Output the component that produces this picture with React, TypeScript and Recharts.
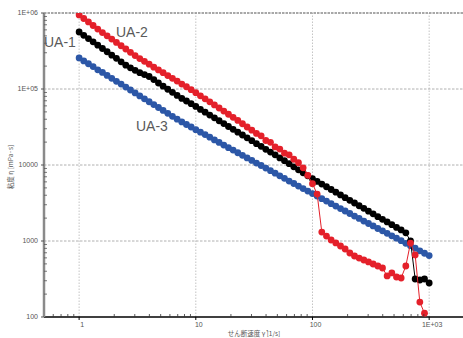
import React from "react";
import { ScatterChart, Scatter, XAxis, YAxis, ReferenceLine } from "recharts";

// shear rate [1/s]
const shearRate = [
  1, 1.096, 1.202, 1.318, 1.445, 1.585, 1.738, 1.905, 2.089, 2.291, 2.512, 2.754, 3.02, 3.311, 3.631, 3.981, 4.365, 4.786, 5.248, 5.754, 6.31, 6.918, 7.586, 8.318, 9.12,
  10, 10.96, 12.02, 13.18, 14.45, 15.85, 17.38, 19.05, 20.89, 22.91, 25.12, 27.54, 30.2, 33.11, 36.31, 39.81, 43.65, 47.86, 52.48, 57.54, 63.1, 69.18, 75.86, 83.18, 91.2,
  100, 109.6, 120.2, 131.8, 144.5, 158.5, 173.8, 190.5, 208.9, 229.1, 251.2, 275.4, 302, 331.1, 363.1, 398.1, 436.5, 478.6, 524.8, 575.4, 631, 691.8, 758.6, 831.8, 912, 1000,
];

// viscosity [mPa·s]
const ua1 = [
  562000, 509000, 461000, 417000, 377000, 341000, 309000, 279000, 253000, 228000,
  206000, 190000, 176000, 164000, 155000, 146000, 133000, 120000, 109000, 99300,
  90500, 82400, 75200, 69500, 64200, 58900, 53900, 49500, 45400, 41700,
  38200, 35100, 32100, 29500, 27000, 24800, 22800, 20900, 19100, 17600,
  16100, 14800, 13600, 12400, 11400, 10400, 9470, 8650, 7890, 7210,
  6600, 6080, 5610, 5170, 4760, 4390, 4040, 3720, 3430, 3160,
  2910, 2690, 2470, 2280, 2090, 1930, 1780, 1640, 1510, 1400,
  1280, 1000, 316, 307, 316, 280,
];

const ua2 = [
  942000, 847000, 762000, 685000, 615000, 553000, 501000, 454000, 410000, 371000,
  336000, 304000, 275000, 251000, 231000, 212000, 194000, 178000, 164000, 150000,
  138000, 127000, 116000, 107000, 98000, 89400, 81400, 74300, 67800, 61800,
  56200, 51200, 46500, 42400, 38600, 34900, 31600, 28700, 26000, 24200,
  21000, 19900, 17300, 16200, 14300, 13600, 11900, 10700, 9180, 7310,
  5680, 4150, 1310, 1160, 1030, 942, 860, 785, 695, 635,
  597, 562, 530, 498, 469, 441, 347, 380, 336, 326,
  469, 940, 655, 157, 112,
];

const ua3 = [
  256000, 234000, 215000, 197000, 179000, 165000, 151000, 138000, 126000, 116000,
  106000, 97000, 88900, 81100, 74300, 68000, 62400, 57100, 52300, 47900,
  43700, 40100, 36900, 34100, 31600, 29200, 27000, 25100, 23200, 21400,
  19800, 18300, 16900, 15700, 14500, 13400, 12400, 11500, 10600, 9850,
  9100, 8410, 7800, 7210, 6670, 6150, 5710, 5280, 4890, 4540,
  4210, 3900, 3610, 3350, 3100, 2880, 2670, 2480, 2300, 2130,
  1980, 1830, 1700, 1580, 1460, 1360, 1260, 1170, 1090, 1010,
  933, 867, 804, 743, 690, 643,
];

const xMajorTicks = [1, 10, 100, 1000];
const xTickLabels = ["1", "10", "100", "1E+03"];
const xMinorMultipliers = [2, 3, 4, 5, 6, 7, 8, 9];
const yMajorTicks = [100, 1000, 10000, 100000, 1000000];
const yTickLabels = ["100", "1000", "10000", "1E+05", "1E+06"];

const xTicks: number[] = [0.6, 0.7, 0.8, 0.9];
xMajorTicks.forEach((m, i) => {
  xTicks.push(m);
  if (i < xMajorTicks.length - 1) xMinorMultipliers.forEach((k) => xTicks.push(m * k));
});
const yTicks: number[] = [];
yMajorTicks.forEach((m, i) => {
  yTicks.push(m);
  if (i < yMajorTicks.length - 1) xMinorMultipliers.forEach((k) => yTicks.push(m * k));
});

const toPoints = (ys: number[]) => ys.map((y, i) => ({ x: shearRate[i], y }));

const RED = "#e4202a";
const BLACK = "#000000";
const BLUE = "#2c57a7";
const FONT = "'Liberation Sans', Arial, sans-serif";

const XTick = (props: any) => {
  const { x, y, payload } = props;
  const idx = xMajorTicks.indexOf(payload.value);
  if (idx >= 0) {
    return (
      <g>
        <line x1={x} x2={x} y1={y} y2={y + 3} stroke="#000" strokeWidth={1} />
        <text x={x + 3} y={y + 10} textAnchor="middle" fontSize={7} fill="#555" fontFamily={FONT}>
          {xTickLabels[idx]}
        </text>
      </g>
    );
  }
  return <line x1={x} x2={x} y1={y} y2={y - 3} stroke="#333" strokeWidth={0.8} />;
};

const YTick = (props: any) => {
  const { x, y, payload } = props;
  const idx = yMajorTicks.indexOf(payload.value);
  if (idx >= 0) {
    return (
      <g>
        <line x1={x - 3} x2={x} y1={y} y2={y} stroke="#555" strokeWidth={1} />
        <text x={x - 6} y={y} dy="0.35em" textAnchor="end" fontSize={7} fill="#555" fontFamily={FONT}>
          {yTickLabels[idx]}
        </text>
      </g>
    );
  }
  return <line x1={x} x2={x + 3} y1={y} y2={y} stroke="#555" strokeWidth={0.8} />;
};

const dot = (color: string) => (p: any) => <circle cx={p.cx} cy={p.cy} r={3.4} fill={color} />;

export default function App() {
  return (
    <div style={{ position: "relative", width: 463, height: 338, background: "#fff" }}>
      <style>{`body{margin:0}`}</style>
      <ScatterChart width={463} height={338} margin={{ top: 13, right: 0, bottom: 0, left: 0 }}>
        <XAxis
          type="number"
          dataKey="x"
          scale="log"
          domain={[0.5, 1950]}
          allowDataOverflow
          ticks={xTicks}
          interval={0}
          height={21}
          tickSize={0}
          tickMargin={0}
          tickLine={false}
          tick={<XTick />}
          axisLine={{ stroke: "#000", strokeWidth: 1.5 }}
        />
        <YAxis
          type="number"
          dataKey="y"
          scale="log"
          domain={[100, 1000000]}
          allowDataOverflow
          ticks={yTicks}
          interval={0}
          width={44}
          tickSize={0}
          tickMargin={0}
          tickLine={false}
          tick={<YTick />}
          axisLine={{ stroke: "#8a8a8a", strokeWidth: 2.5 }}
        />
        {xMajorTicks.map((v) => (
          <ReferenceLine key={"vx" + v} x={v} stroke="#c4c4c4" strokeDasharray="1.5 1.5" strokeWidth={1} />
        ))}
        {yMajorTicks.slice(1, 4).map((v) => (
          <ReferenceLine key={"hy" + v} y={v} stroke="#b0b0b0" strokeDasharray="2.5 1.5" strokeWidth={1} />
        ))}
        <ReferenceLine y={1000000} stroke="#8c8c8c" strokeDasharray="2.5 1" strokeWidth={1.6} />
        <Scatter
          name="UA-3"
          data={toPoints(ua3)}
          fill={BLUE}
          line={{ stroke: BLUE, strokeWidth: 1 }}
          shape={dot(BLUE)}
          isAnimationActive={false}
        />
        <Scatter
          name="UA-1"
          data={toPoints(ua1)}
          fill={BLACK}
          line={{ stroke: BLACK, strokeWidth: 1 }}
          shape={dot(BLACK)}
          isAnimationActive={false}
        />
        <Scatter
          name="UA-2"
          data={toPoints(ua2)}
          fill={RED}
          line={{ stroke: RED, strokeWidth: 1 }}
          shape={dot(RED)}
          isAnimationActive={false}
        />
      </ScatterChart>
      <svg width={463} height={338} style={{ position: "absolute", left: 0, top: 0, pointerEvents: "none" }}>
        <text x={44} y={47} fontSize={14} fill="#5a5a5a" fontFamily={FONT}>UA-1</text>
        <text x={116} y={37} fontSize={14} fill="#5a5a5a" fontFamily={FONT}>UA-2</text>
        <text x={136} y={131} fontSize={14} fill="#5a5a5a" fontFamily={FONT}>UA-3</text>
        <text x={254} y={336} textAnchor="middle" fontSize={6.5} fill="#555" fontFamily="'Noto Sans CJK JP', sans-serif">
          せん断速度 γ̇ [1/s]
        </text>
        <text
          x={11}
          y={167}
          textAnchor="middle"
          dominantBaseline="middle"
          fontSize={6.5}
          fill="#555"
          fontFamily="'Noto Sans CJK JP', sans-serif"
          transform="rotate(-90 11 167)"
        >
          粘度 η [mPa·s]
        </text>
      </svg>
    </div>
  );
}
